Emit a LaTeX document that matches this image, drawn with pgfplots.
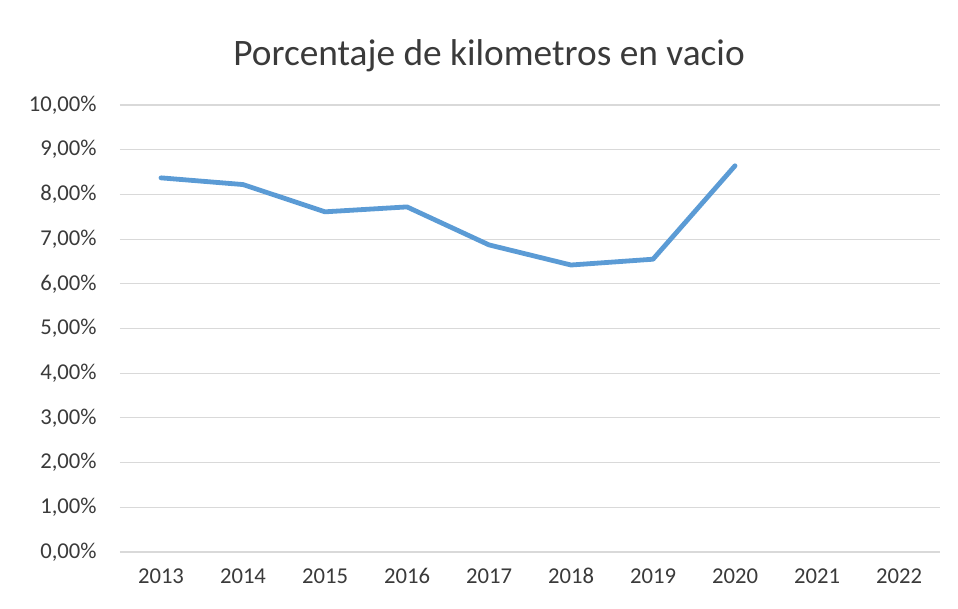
\documentclass[border=0pt]{standalone}
\usepackage{pgfplots}
\pgfplotsset{compat=1.18}
\usepackage{fontspec}
\setmainfont{Carlito}
\definecolor{lineblue}{HTML}{5B9BD5}
\definecolor{gridgray}{HTML}{D9D9D9}
\definecolor{txtgray}{HTML}{3A3A3A}
\begin{document}
\begin{tikzpicture}
\useasboundingbox (-90pt,-42.75pt) rectangle (628.5pt,414pt);
\begin{axis}[
  at={(0,0)}, anchor=south west,
  scale only axis,
  width=615pt, height=335.25pt,
  xmin=-0.5, xmax=9.5,
  ymin=0, ymax=10,
  xtick={0,1,2,3,4,5,6,7,8,9},
  xticklabels={2013,2014,2015,2016,2017,2018,2019,2020,2021,2022},
  ytick={0,1,2,3,4,5,6,7,8,9,10},
  yticklabel={\pgfmathprintnumber[fixed,fixed zerofill,precision=2,use comma]{\tick}\%},
  /pgf/number format/assume math mode=true,
  ymajorgrids,
  grid style={gridgray, line width=0.8pt},
  axis line style={draw=none},
  major tick length=0pt,
  tick label style={font=\fontsize{17}{20}\selectfont, text=txtgray},
  yticklabel style={xshift=-14pt},
  xticklabel style={anchor=base, yshift=-24pt},
  clip=false,
]
\addplot[lineblue, line width=3.6pt, line join=round, line cap=round] coordinates {
(0,8.37) (1,8.22) (2,7.61) (3,7.72) (4,6.87) (5,6.42) (6,6.55) (7,8.64)
};
\end{axis}
\node[text=txtgray, font=\fontsize{28}{32}\selectfont] at (276.75pt,372pt) {Porcentaje de kilometros en vacio};
\end{tikzpicture}
\end{document}
